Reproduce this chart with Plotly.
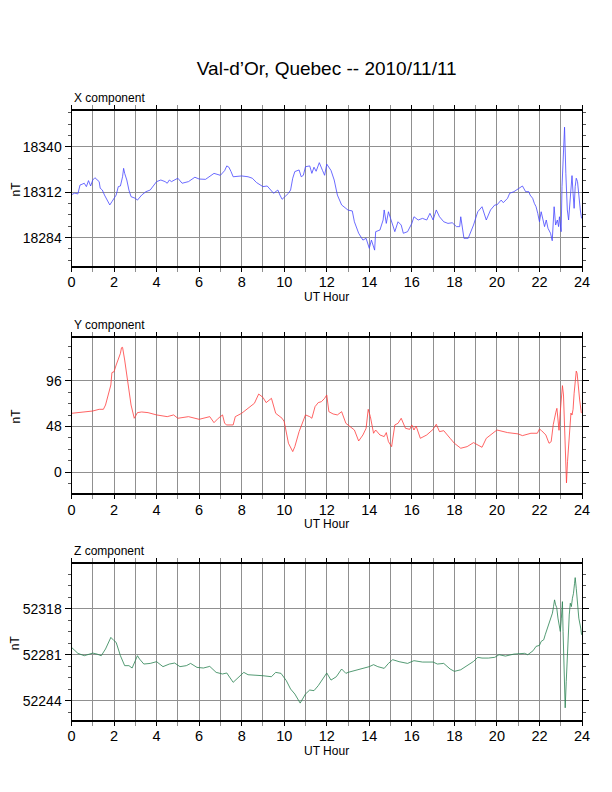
import plotly.graph_objects as go

# ---------------- data ----------------
x_hours = [0.0, 0.15, 0.3, 0.4, 0.5, 0.6, 0.7, 0.8, 0.9, 1.0, 1.1, 1.2, 1.3, 1.35, 1.45, 1.55, 1.7, 1.8, 1.9,
           2.0, 2.1, 2.2, 2.3, 2.4, 2.45, 2.5, 2.6, 2.7, 2.8, 3.0, 3.1, 3.3, 3.5, 3.7, 3.9, 4.0, 4.2, 4.4, 4.5,
           4.6, 4.7, 4.9, 5.0, 5.2, 5.5, 5.8, 6.0, 6.3, 6.5, 6.7, 7.0, 7.2, 7.3, 7.4, 7.5, 7.6, 8.0, 8.3, 8.5,
           8.7, 9.0, 9.2, 9.5, 9.7, 9.8, 9.9, 10.0, 10.2, 10.3, 10.4, 10.5, 10.7, 10.8, 10.9, 11.0, 11.2, 11.3,
           11.4, 11.5, 11.65, 11.8, 11.9, 12.0, 12.2, 12.35, 12.5, 12.7, 13.0, 13.2, 13.3, 13.5, 13.7, 13.85,
           14.0, 14.1, 14.25, 14.3, 14.5, 14.65, 14.7, 14.8, 14.9, 15.0, 15.2, 15.35, 15.5, 15.6, 15.8, 16.0,
           16.1, 16.3, 16.5, 16.7, 16.85, 17.0, 17.15, 17.3, 17.5, 17.7, 17.9, 18.1, 18.25, 18.3, 18.45, 18.65,
           18.9, 19.1, 19.3, 19.5, 19.7, 19.9, 20.0, 20.2, 20.3, 20.5, 20.6, 20.8, 21.0, 21.2, 21.35, 21.5,
           21.56, 21.68, 21.76, 21.84, 21.92, 22.0, 22.08, 22.16, 22.24, 22.32, 22.4, 22.52, 22.6, 22.69, 22.76,
           22.84, 22.9, 22.94, 23.02, 23.06, 23.13, 23.18, 23.24, 23.31, 23.37, 23.44, 23.48, 23.53, 23.58,
           23.63, 23.68, 23.73, 23.79, 23.85, 23.92, 23.98]
x_values = [18310.5, 18311.5, 18311.0, 18316.5, 18317.0, 18317.6, 18315.5, 18319.2, 18315.9, 18319.6, 18321.0,
            18319.5, 18318.6, 18314.5, 18313.4, 18310.3, 18306.2, 18304.2, 18306.2, 18308.3, 18310.3, 18315.5,
            18315.9, 18321.6, 18326.8, 18323.7, 18319.6, 18313.4, 18309.3, 18308.3, 18307.2, 18310.3, 18312.4,
            18313.4, 18316.5, 18318.6, 18319.6, 18318.6, 18317.6, 18319.6, 18318.6, 18320.0, 18320.7, 18317.6,
            18318.6, 18321.3, 18320.2, 18320.0, 18321.6, 18323.7, 18322.5, 18325.4, 18328.3, 18327.5, 18324.8,
            18321.6, 18322.1, 18321.6, 18320.7, 18318.0, 18315.5, 18315.9, 18311.4, 18313.4, 18310.3, 18307.7,
            18308.9, 18311.4, 18313.4, 18320.7, 18324.8, 18325.8, 18321.6, 18322.5, 18327.8, 18328.3, 18323.7,
            18327.5, 18325.0, 18330.3, 18325.5, 18322.5, 18329.4, 18325.5, 18319.6, 18310.3, 18304.2, 18301.0,
            18300.5, 18293.8, 18286.7, 18282.5, 18283.6, 18277.4, 18282.5, 18276.3, 18287.7, 18288.7, 18294.9,
            18301.1, 18292.8, 18300.0, 18295.9, 18287.7, 18293.8, 18291.8, 18286.7, 18287.7, 18292.8, 18296.9,
            18294.9, 18295.9, 18294.9, 18299.0, 18294.9, 18301.1, 18296.9, 18293.8, 18292.8, 18293.2, 18290.8,
            18290.8, 18296.9, 18283.6, 18283.6, 18291.8, 18300.0, 18303.1, 18294.9, 18301.1, 18304.2, 18304.2,
            18307.2, 18305.6, 18308.3, 18311.4, 18312.4, 18313.9, 18315.9, 18312.4, 18312.4, 18310.3, 18308.3,
            18305.2, 18303.1, 18299.0, 18293.8, 18300.0, 18294.9, 18290.8, 18294.9, 18289.8, 18286.7, 18282.1,
            18303.1, 18291.8, 18294.9, 18290.8, 18296.9, 18287.7, 18315.5, 18336.1, 18352.2, 18323.7, 18301.1,
            18294.9, 18307.2, 18311.4, 18322.3, 18311.4, 18302.1, 18315.5, 18320.7, 18318.6, 18308.3, 18301.1,
            18295.9]

y_hours = [0.0, 0.5, 1.0, 1.3, 1.5, 1.6, 1.7, 1.85, 1.9, 2.0, 2.1, 2.2, 2.3, 2.35, 2.4, 2.5, 2.65, 2.8, 2.95,
           3.1, 3.3, 3.6, 4.0, 4.5, 4.8, 5.0, 5.5, 6.0, 6.5, 6.7, 6.9, 7.1, 7.2, 7.3, 7.6, 7.7, 8.0, 8.3, 8.6,
           8.8, 9.0, 9.15, 9.4, 9.6, 9.9, 10.0, 10.2, 10.4, 10.5, 10.7, 10.9, 11.0, 11.2, 11.3, 11.45, 11.6,
           11.75, 11.9, 12.0, 12.1, 12.3, 12.5, 12.7, 12.9, 13.1, 13.3, 13.5, 13.7, 13.85, 13.95, 14.05, 14.2,
           14.3, 14.5, 14.7, 14.8, 14.9, 15.05, 15.2, 15.35, 15.5, 15.7, 15.9, 16.0, 16.1, 16.2, 16.4, 16.7,
           17.0, 17.15, 17.3, 17.5, 17.8, 18.0, 18.3, 18.6, 18.9, 19.1, 19.3, 19.5, 19.8, 20.0, 20.5, 21.0,
           21.2, 21.6, 21.9, 22.0, 22.1, 22.2, 22.3, 22.45, 22.55, 22.65, 22.71, 22.77, 22.82, 22.87, 22.92,
           22.97, 23.03, 23.08, 23.13, 23.18, 23.23, 23.27, 23.32, 23.39, 23.44, 23.48, 23.53, 23.58, 23.63,
           23.68, 23.73, 23.77, 23.82, 23.89, 23.97]
y_values = [61.8, 62.8, 64.2, 66.0, 66.0, 70.5, 78.5, 91.5, 104.4, 105.4, 112.4, 117.6, 124.6, 130.5, 130.9,
            117.6, 93.2, 70.5, 56.6, 62.5, 63.2, 62.5, 60.1, 58.3, 60.1, 56.6, 58.3, 55.5, 58.3, 52.0, 56.6,
            60.1, 51.3, 49.6, 49.6, 58.3, 61.8, 67.0, 72.3, 82.0, 78.5, 73.0, 77.5, 61.8, 56.6, 53.1, 30.4, 21.7,
            26.9, 42.6, 54.8, 60.1, 58.3, 56.6, 68.8, 73.0, 74.0, 77.5, 81.0, 63.5, 61.1, 60.1, 63.5, 51.3, 47.8,
            44.3, 32.8, 39.1, 46.1, 66.0, 58.3, 40.9, 44.3, 39.1, 37.4, 41.6, 32.1, 26.9, 49.6, 51.3, 56.6, 46.1,
            45.0, 49.6, 44.3, 48.5, 35.6, 39.1, 45.0, 50.3, 42.6, 43.6, 35.6, 30.4, 25.2, 26.9, 31.1, 28.6, 26.2,
            35.6, 40.9, 44.3, 41.6, 40.2, 38.4, 40.9, 40.9, 45.4, 43.6, 40.9, 39.1, 30.4, 32.1, 50.0, 58.0, 63.0,
            67.0, 53.0, 44.0, 61.0, 82.0, 90.8, 81.0, 49.7, 11.5, -11.1, 11.5, 35.8, 53.2, 62.0, 60.0, 66.0,
            82.8, 95.0, 106.0, 103.7, 88.0, 75.8, 62.0]

z_hours = [0.0, 0.3, 0.6, 0.9, 1.0, 1.2, 1.4, 1.6, 1.85, 2.0, 2.1, 2.3, 2.5, 2.7, 2.85, 3.0, 3.1, 3.2, 3.4, 3.7,
           4.0, 4.3, 4.6, 4.85, 5.1, 5.4, 5.6, 5.9, 6.2, 6.5, 6.8, 7.1, 7.3, 7.6, 7.9, 8.1, 8.3, 8.7, 9.0, 9.4,
           9.6, 9.85, 10.1, 10.3, 10.5, 10.75, 10.9, 11.0, 11.2, 11.4, 11.6, 11.8, 12.0, 12.2, 12.45, 12.7,
           12.9, 13.0, 13.3, 13.7, 14.0, 14.2, 14.4, 14.7, 14.9, 15.1, 15.4, 15.8, 16.1, 16.5, 17.0, 17.2,
           17.5, 17.8, 18.0, 18.3, 18.6, 18.9, 19.1, 19.3, 19.6, 19.9, 20.1, 20.4, 20.8, 21.0, 21.3, 21.45,
           21.7, 21.84, 22.0, 22.08, 22.2, 22.27, 22.35, 22.44, 22.53, 22.61, 22.66, 22.71, 22.76, 22.81,
           22.87, 22.94, 22.98, 23.03, 23.08, 23.11, 23.15, 23.18, 23.21, 23.26, 23.31, 23.35, 23.4, 23.45,
           23.5, 23.55, 23.6, 23.65, 23.68, 23.73, 23.79, 23.85, 23.94, 23.98]
z_values = [52286.9, 52282.1, 52280.2, 52281.5, 52282.3, 52281.5, 52280.2, 52285.6, 52294.9, 52292.3, 52290.9,
            52280.2, 52272.2, 52272.2, 52270.3, 52276.2, 52280.2, 52277.5, 52273.5, 52274.0, 52275.4, 52271.4,
            52273.5, 52274.3, 52271.4, 52272.2, 52274.0, 52270.8, 52270.3, 52271.6, 52266.8, 52265.5, 52266.3,
            52258.8, 52264.1, 52266.8, 52264.9, 52264.7, 52264.1, 52263.3, 52266.8, 52266.0, 52260.1, 52253.4,
            52249.4, 52242.1, 52246.7, 52249.4, 52252.6, 52252.1, 52256.1, 52261.4, 52266.3, 52260.6, 52263.3,
            52269.5, 52266.0, 52266.8, 52268.1, 52269.7, 52271.4, 52273.0, 52271.4, 52270.0, 52274.0, 52277.0,
            52275.4, 52274.0, 52276.2, 52275.1, 52275.1, 52273.5, 52274.0, 52269.5, 52267.6, 52268.9, 52272.2,
            52275.6, 52278.9, 52278.3, 52278.3, 52278.9, 52281.0, 52279.9, 52281.5, 52281.5, 52282.1, 52281.0,
            52284.2, 52287.7, 52288.5, 52291.7, 52293.0, 52297.0, 52301.0, 52305.0, 52310.4, 52314.4, 52319.7,
            52325.1, 52321.1, 52318.9, 52310.4, 52301.0, 52299.7, 52310.4, 52323.7, 52299.7, 52273.0, 52251.6,
            52238.3, 52259.6, 52278.3, 52299.7, 52313.0, 52322.4, 52319.7, 52326.4, 52330.4, 52338.4, 52343.0,
            52334.4, 52321.1, 52310.4, 52302.4, 52297.0]

panel_labels = ["X component", "Y component", "Z component"]
x_tick_labels = ["0", "2", "4", "6", "8", "10", "12", "14", "16", "18", "20", "22", "24"]
x_tick_vals = [0, 2, 4, 6, 8, 10, 12, 14, 16, 18, 20, 22, 24]
y_tick_vals = [[18284, 18312, 18340], [0, 48, 96], [52244, 52281, 52318]]
y_tick_labels = [["18284", "18312", "18340"], ["0", "48", "96"], ["52244", "52281", "52318"]]
y_ranges = [[18266.5, 18362.2], [-22, 141], [52228.5, 52353.7]]
y_minor = [7, 12, 9.25]
title_text = "Val-d’Or, Quebec -- 2010/11/11"

# ---------------- layout geometry ----------------
# The page body adds an 8 px margin, so target screen pixels are shifted by OFF.
W, H = 612, 792
OFF = 8.0
px_left, px_right = 71.5 - OFF, 582.0 - OFF
panels_px = [(111.0 - OFF, 266.0 - OFF), (337.7 - OFF, 493.3 - OFF), (564.3 - OFF, 720.0 - OFF)]
colors = ["rgb(70,70,255)", "rgb(255,60,60)", "rgb(40,130,80)"]
FONT = "Liberation Sans, Arial, Helvetica, sans-serif"

fig = go.Figure()
series = [(x_hours, x_values), (y_hours, y_values), (z_hours, z_values)]
annotations = []
layout = dict(
    width=W, height=H,
    margin=dict(l=0, r=0, t=0, b=0, autoexpand=False),
    paper_bgcolor="white", plot_bgcolor="white",
    showlegend=False,
    font=dict(family=FONT, color="black", size=14),
    title=dict(text=title_text, x=(px_left + px_right) / 2 / W, xanchor="center",
               y=1 - (68 - OFF) / H, yanchor="middle",
               font=dict(size=19, family=FONT, color="black")),
)

for i, ((hx, hv), (top, bot)) in enumerate(zip(series, panels_px)):
    n = "" if i == 0 else str(i + 1)
    fig.add_trace(go.Scatter(x=hx, y=hv, mode="lines",
                             line=dict(color=colors[i], width=0.8),
                             xaxis="x" + n, yaxis="y" + n, hoverinfo="skip"))
    dom_y = [1 - bot / H, 1 - top / H]
    layout["xaxis" + n] = dict(
        domain=[px_left / W, px_right / W], anchor="y" + n, range=[0, 24],
        tickmode="array", tickvals=x_tick_vals, ticktext=x_tick_labels,
        ticks="outside", ticklen=4, tickwidth=1, tickcolor="black",
        showgrid=True, gridcolor="#909090", gridwidth=1,
        minor=dict(dtick=1, tick0=0, ticks="outside", ticklen=4, tickcolor="#909090",
                   showgrid=True, gridcolor="#909090", gridwidth=1),
        showline=True, linecolor="black", linewidth=2, mirror="allticks",
        zeroline=False, tickfont=dict(size=14.5, family=FONT, color="black"),
        ticklabelstandoff=-2,
        automargin=False, fixedrange=True,
    )
    layout["yaxis" + n] = dict(
        domain=dom_y, anchor="x" + n, range=y_ranges[i],
        tickmode="array", tickvals=y_tick_vals[i], ticktext=y_tick_labels[i],
        ticks="outside", ticklen=6, tickwidth=1, tickcolor="black",
        showgrid=True, gridcolor="#909090", gridwidth=1,
        minor=dict(dtick=y_minor[i], tick0=y_tick_vals[i][0], ticks="outside", ticklen=3,
                   tickcolor="#555555", showgrid=False),
        showline=True, linecolor="black", linewidth=1, mirror="allticks",
        zeroline=False, tickfont=dict(size=14, family=FONT, color="black"),
        automargin=False, fixedrange=True,
    )
    # panel label
    annotations.append(dict(text=panel_labels[i], xref="paper", yref="paper",
                            x=(72 - OFF) / W, y=1 - (top - 13) / H, xanchor="left", yanchor="middle",
                            showarrow=False, font=dict(size=12, family=FONT, color="black")))
    # y-axis title
    annotations.append(dict(text="nT", xref="paper", yref="paper",
                            x=(15 - OFF) / W, y=1 - (top + bot) / 2 / H, xanchor="center",
                            yanchor="middle", textangle=-90, showarrow=False,
                            font=dict(size=12, family=FONT, color="black")))
    # x-axis title
    annotations.append(dict(text="UT Hour", xref="paper", yref="paper",
                            x=(px_left + px_right) / 2 / W, y=1 - (bot + 31) / H,
                            xanchor="center", yanchor="middle", showarrow=False,
                            font=dict(size=12, family=FONT, color="black")))

layout["annotations"] = annotations
fig.update_layout(**layout)
fig.write_html("out.html")
